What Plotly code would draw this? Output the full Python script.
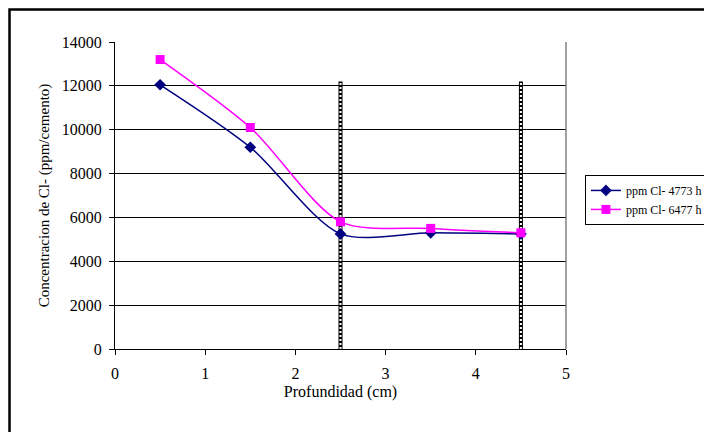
import plotly.graph_objects as go

profundidad = [0.5, 1.5, 2.5, 3.5, 4.5]
cl_4773 = [12050, 9200, 5250, 5300, 5250]
cl_6477 = [13200, 10100, 5800, 5500, 5300]
marca_x = [2.5, 4.5]
marca_top = 12200

FONT = "Liberation Serif"

fig = go.Figure()

# vertical dashed marks
for xv in marca_x:
    fig.add_trace(go.Scatter(x=[xv, xv], y=[0, marca_top], mode="lines",
                             line=dict(color="black", width=4), showlegend=False, hoverinfo="skip"))
    fig.add_trace(go.Scatter(x=[xv, xv], y=[0, marca_top], mode="lines",
                             line=dict(color="white", width=2, dash="2px,2px"), showlegend=False, hoverinfo="skip"))

fig.add_trace(go.Scatter(x=profundidad, y=cl_4773, mode="lines+markers", name="ppm Cl- 4773 h",
                         line=dict(color="#000080", width=1.5, shape="spline", smoothing=0.8),
                         marker=dict(symbol="diamond", size=9, color="#000080")))
fig.add_trace(go.Scatter(x=profundidad, y=cl_6477, mode="lines+markers", name="ppm Cl- 6477 h",
                         line=dict(color="#FF00FF", width=1.5, shape="spline", smoothing=0.8),
                         marker=dict(symbol="square", size=9, color="#FF00FF")))

fig.update_layout(
    width=704, height=424,
    margin=dict(l=107, r=146, t=34, b=83, autoexpand=False),
    paper_bgcolor="white", plot_bgcolor="white",
    font=dict(family=FONT, size=16, color="black"),
    xaxis=dict(range=[0, 5], dtick=1, showgrid=False, showline=True, linecolor="black",
               ticks="outside", ticklen=5, tickcolor="black", zeroline=False, automargin=False,
               tickfont=dict(size=16), ticklabelstandoff=5,
               title=dict(text="Profundidad (cm)", font=dict(size=16), standoff=4)),
    yaxis=dict(range=[0, 14000], dtick=2000, tickformat="d", showgrid=True, gridcolor="black", gridwidth=1,
               showline=True, linecolor="black", ticks="outside", ticklen=5, tickcolor="black",
               zeroline=False, automargin=False, tickfont=dict(size=16), ticklabelstandoff=4,
               title=dict(text="Concentracion de Cl- (ppm/cemento)", font=dict(size=15), standoff=8)),
    legend=dict(x=1.042, y=0.567, xanchor="left", yanchor="top", bordercolor="black", borderwidth=1,
                font=dict(size=12), bgcolor="white", tracegroupgap=0, itemwidth=30),
    shapes=[
        dict(type="line", xref="paper", yref="paper", x0=1, x1=1, y0=0, y1=1,
             line=dict(color="#808080", width=1.5)),
        dict(type="rect", xref="paper", yref="paper", x0=-0.2339, x1=1.5, y0=-0.5, y1=1.1059,
             line=dict(color="black", width=2.5), fillcolor="rgba(0,0,0,0)", layer="below"),
    ],
)

fig.write_html("out.html")
